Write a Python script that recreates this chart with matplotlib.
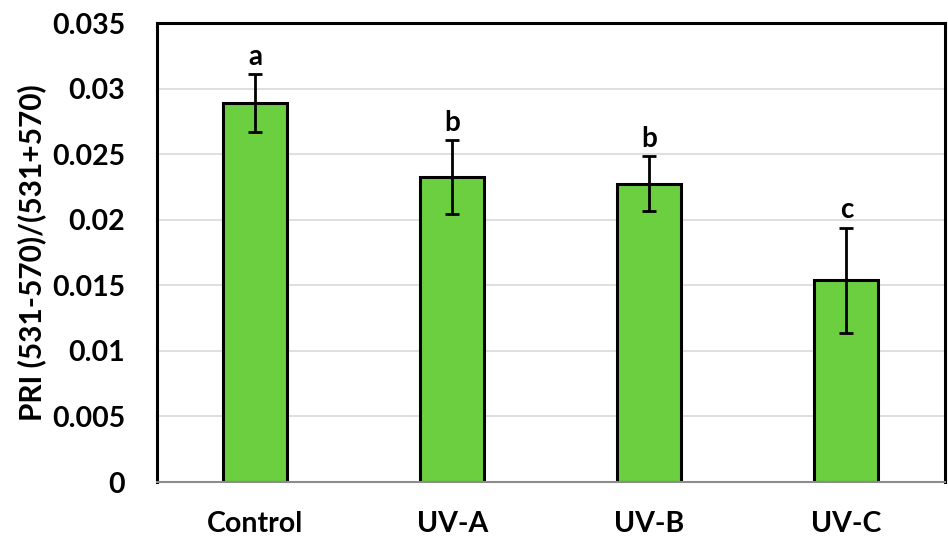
import matplotlib.pyplot as plt
import numpy as np

# PRI per treatment, with error bars and significance letters
treatments = ["Control", "UV-A", "UV-B", "UV-C"]
pri_mean = [0.0289, 0.02325, 0.02275, 0.01540]
pri_err = [0.0022, 0.0028, 0.0021, 0.0040]
letters = ["a", "b", "b", "c"]
yticks = [0, 0.005, 0.01, 0.015, 0.02, 0.025, 0.03, 0.035]
ytick_labels = ["0", "0.005", "0.01", "0.015", "0.02", "0.025", "0.03", "0.035"]

plt.rcParams['font.family'] = ['Lato', 'DejaVu Sans']
plt.rcParams['font.weight'] = 'bold'

fig = plt.figure(figsize=(9.48, 5.4), dpi=100)
ax = fig.add_axes([0.1656, 0.1074, 0.8312, 0.85])

x = np.arange(len(treatments))
ax.bar(x, pri_mean, width=0.325, color="#6ccf3f", edgecolor="black", linewidth=2.2, zorder=2)
ax.errorbar(x, pri_mean, yerr=pri_err, fmt="none", ecolor="black",
            elinewidth=2, capsize=5, capthick=2, zorder=3)

for xi, m, e, lab in zip(x, pri_mean, pri_err, letters):
    ax.annotate(lab, (xi, m + e), xytext=(0, 3), textcoords="offset points",
                ha="center", va="bottom", fontsize=20, fontweight="bold")

ax.set_xlim(-0.5, len(treatments) - 0.5)
ax.set_ylim(0, 0.035)
ax.set_yticks(yticks)
ax.set_yticklabels(ytick_labels)
ax.set_xticks(x)
ax.set_xticklabels(treatments)
ax.tick_params(axis="both", length=0, labelsize=20.5)
ax.tick_params(axis="x", pad=21)
ax.tick_params(axis="y", pad=23)
ax.yaxis.grid(True, color="#d9d9d9", linewidth=1.2, zorder=0)
ax.set_axisbelow(True)

for side in ["top", "left", "right"]:
    ax.spines[side].set_linewidth(2.2)
    ax.spines[side].set_color("black")
ax.spines["bottom"].set_color("#8c8c8c")
ax.spines["bottom"].set_linewidth(1.5)

ax.set_ylabel("PRI (531-570)/(531+570)", fontsize=21.5, fontweight="bold", labelpad=4)

fig.savefig("out.png", dpi=100)
